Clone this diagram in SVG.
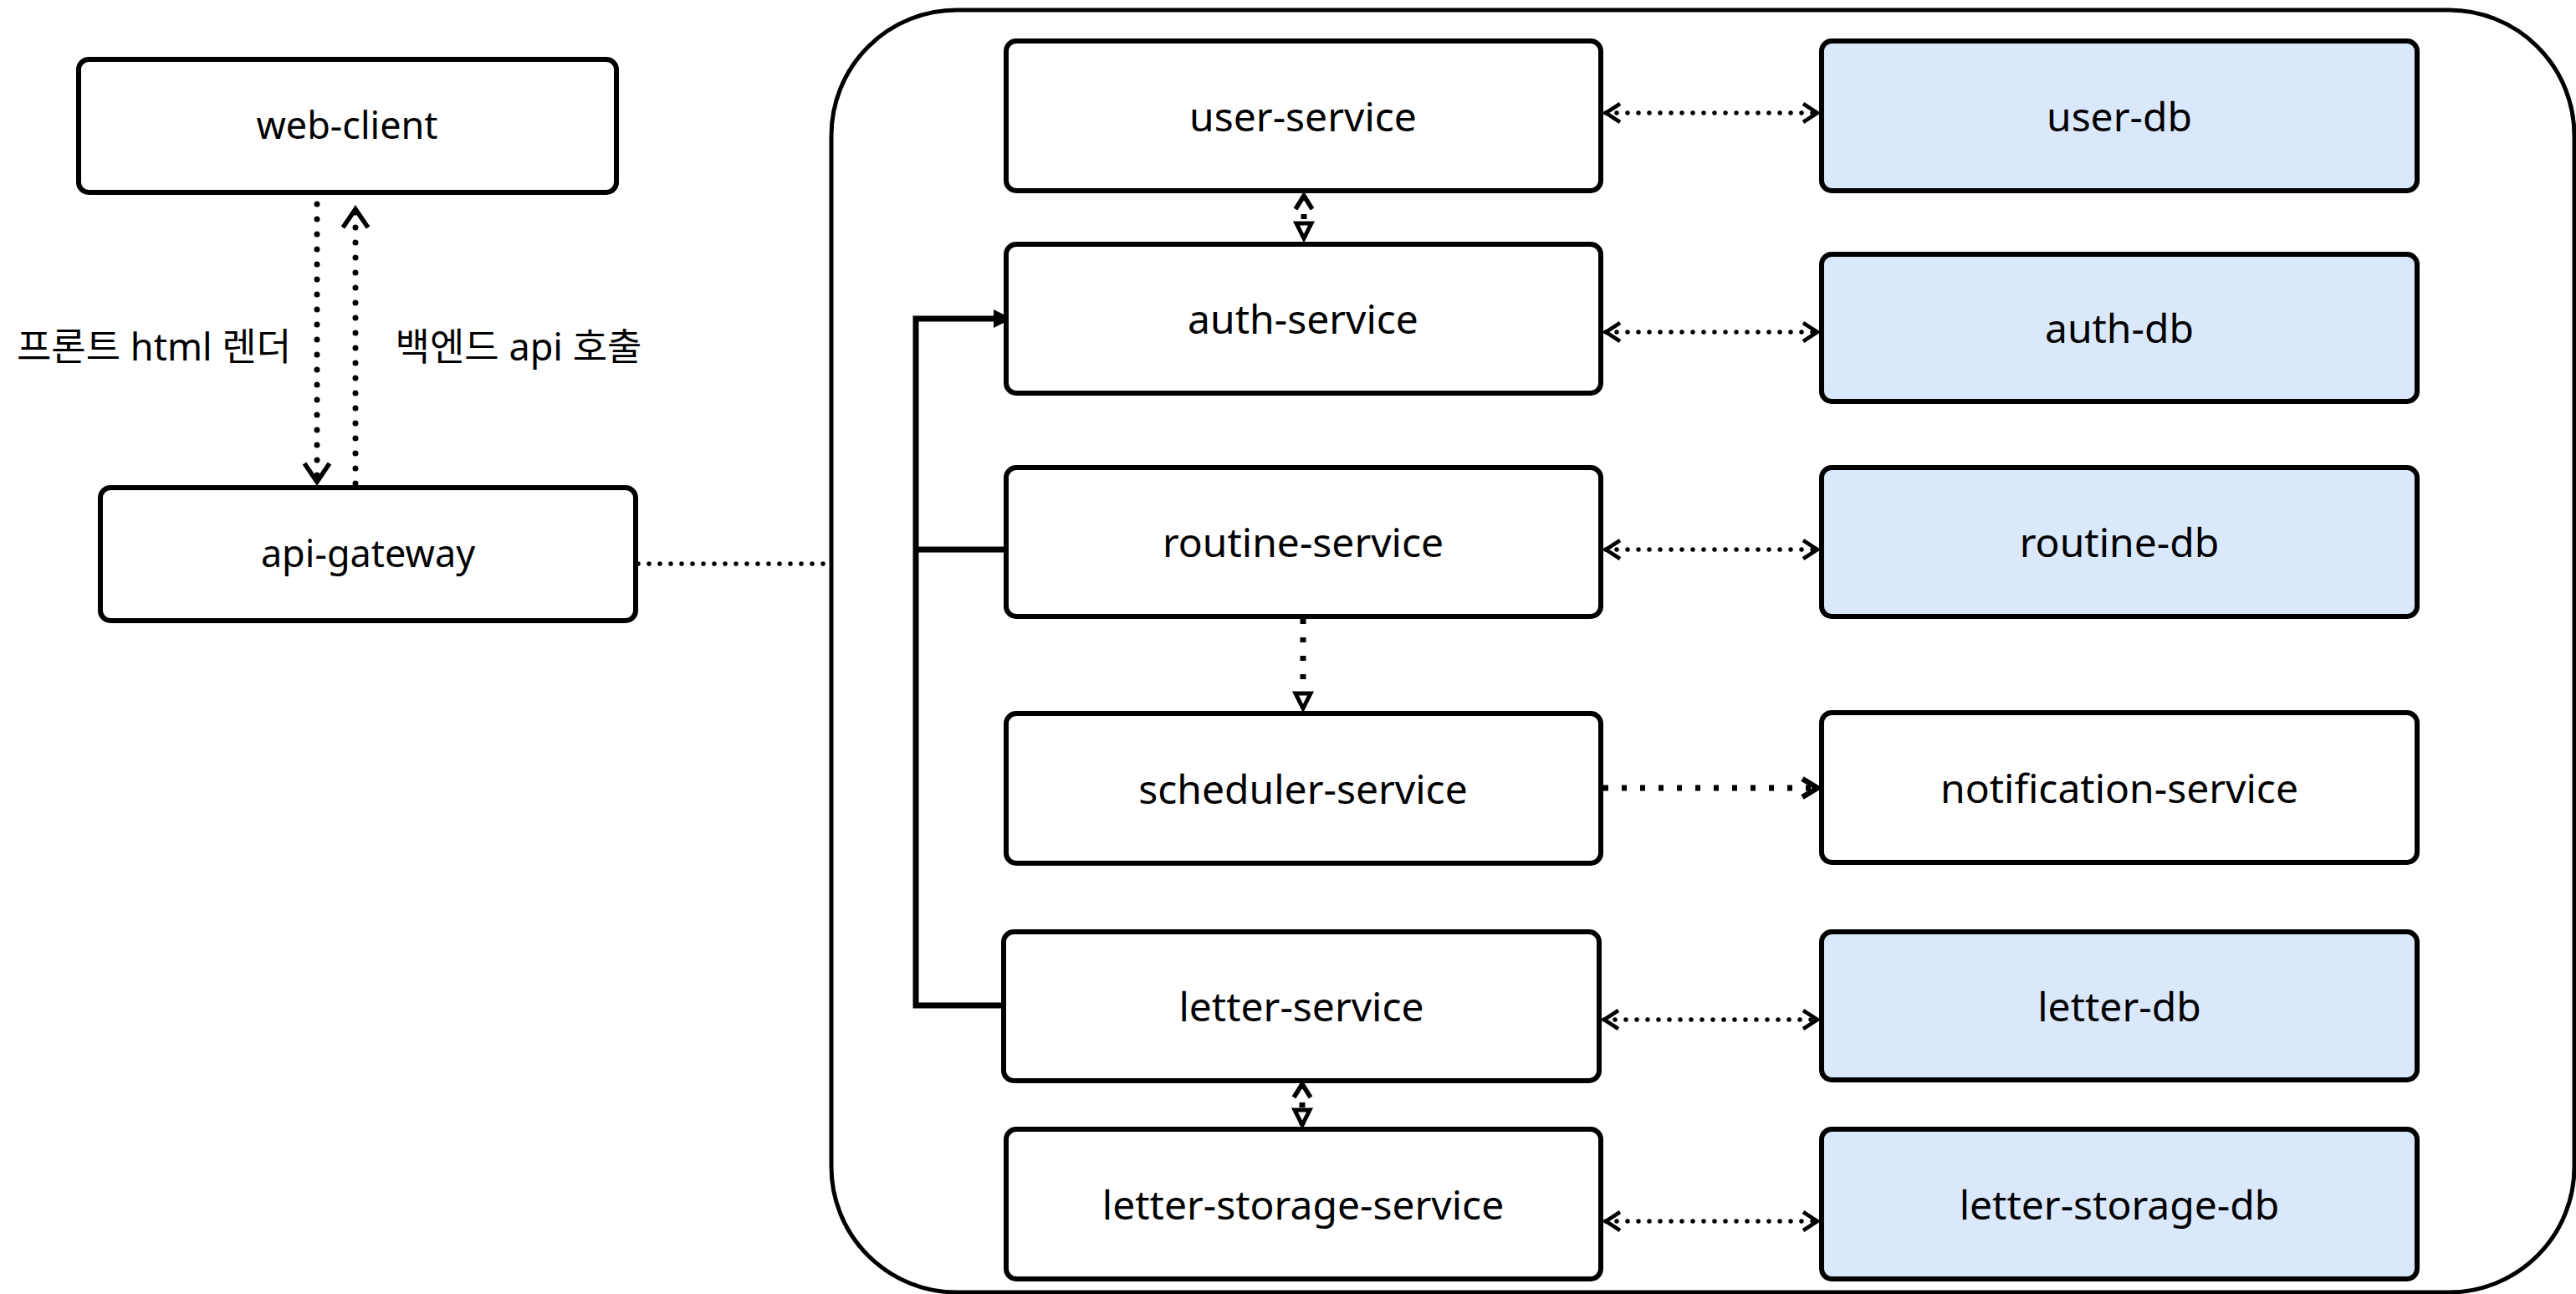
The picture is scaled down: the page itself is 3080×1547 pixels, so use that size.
<svg xmlns="http://www.w3.org/2000/svg" width="3080" height="1547" viewBox="0 0 3080 1547">
<style>
.box{fill:#fff;stroke:#000;stroke-width:6}
.db{fill:#dae8fc;stroke:#000;stroke-width:6}
.lbl{font-family:"Noto Sans","Noto Sans CJK KR",sans-serif;font-size:48px;fill:#000;text-anchor:middle}
.lbs{font-family:"Noto Sans","Noto Sans CJK KR",sans-serif;font-size:45px;fill:#000;text-anchor:middle}
.kr{font-family:"Noto Sans","Noto Sans CJK KR",sans-serif;font-size:45px;fill:#000;text-anchor:middle}
.dotL{fill:none;stroke:#000;stroke-width:7;stroke-linecap:round;stroke-dasharray:0 18}
.dot{fill:none;stroke:#000;stroke-width:5.5;stroke-linecap:round;stroke-dasharray:0 13}
.dash{fill:none;stroke:#000;stroke-width:7;stroke-dasharray:6 16}
.solid{fill:none;stroke:#000;stroke-width:7}
</style>
<defs>
<marker id="chev" markerUnits="userSpaceOnUse" viewBox="-30 -20 40 40" markerWidth="40" markerHeight="40" refX="0" refY="0" orient="auto-start-reverse">
<path d="M-17,-11 L0,0 L-17,11" fill="none" stroke="#000" stroke-width="4.5"/>
</marker>
<marker id="chevL" markerUnits="userSpaceOnUse" viewBox="-30 -20 40 40" markerWidth="40" markerHeight="40" refX="0" refY="0" orient="auto-start-reverse">
<path d="M-22,-15 L0,0 L-22,15" fill="none" stroke="#000" stroke-width="5.5"/>
</marker>
<marker id="chevB" markerUnits="userSpaceOnUse" viewBox="-30 -20 40 40" markerWidth="40" markerHeight="40" refX="0" refY="0" orient="auto-start-reverse">
<path d="M-18,-11 L0,0 L-18,11" fill="none" stroke="#000" stroke-width="6.5"/>
</marker>
<marker id="chevS" markerUnits="userSpaceOnUse" viewBox="-30 -20 40 40" markerWidth="40" markerHeight="40" refX="0" refY="0" orient="auto-start-reverse">
<path d="M-16,-10 L0,0 L-16,10" fill="none" stroke="#000" stroke-width="5.5"/>
</marker>
<marker id="tri" markerUnits="userSpaceOnUse" viewBox="-30 -20 40 40" markerWidth="40" markerHeight="40" refX="0" refY="0" orient="auto-start-reverse">
<path d="M-18,-9 L0,0 L-18,9 Z" fill="#fff" stroke="#000" stroke-width="5" stroke-linejoin="miter"/>
</marker>
<marker id="blk" markerUnits="userSpaceOnUse" viewBox="-30 -20 40 40" markerWidth="40" markerHeight="40" refX="-10" refY="0" orient="auto">
<path d="M-12,-11 L10,0 L-12,11 Z" fill="#000"/>
</marker>
</defs>
<rect width="3080" height="1547" fill="#fff"/>

<g id="container">
<rect x="994" y="12" width="2084" height="1533" rx="150" ry="150" fill="none" stroke="#000" stroke-width="5"/>
</g>

<g id="connectors">
<line class="dotL" x1="379" y1="244" x2="379" y2="576" marker-end="url(#chevL)"/>
<line class="dotL" x1="425" y1="578" x2="425" y2="250" marker-end="url(#chevL)"/>
<text class="kr" x="184" y="431">프론트 html 렌더</text>
<text class="kr" x="620" y="431">백엔드 api 호출</text>
<line class="dot" x1="763" y1="674" x2="992" y2="674"/>
<path class="solid" d="M1200,1202 H1095 V381 H1190" marker-end="url(#blk)"/>
<path class="solid" d="M1095,657 H1203"/>
<line class="dash" x1="1559" y1="234" x2="1559" y2="285" marker-start="url(#chevS)" marker-end="url(#tri)"/>
<line class="dash" x1="1558" y1="740" x2="1558" y2="847" marker-end="url(#tri)"/>
<line class="dash" x1="1557" y1="1296" x2="1557" y2="1345" marker-start="url(#chevS)" marker-end="url(#tri)"/>
<line class="dash" x1="1917" y1="942" x2="2173" y2="942" marker-end="url(#chevB)"/>
<line class="dot" x1="1920" y1="135" x2="2173" y2="135" marker-start="url(#chev)" marker-end="url(#chev)"/>
<line class="dot" x1="1920" y1="397" x2="2173" y2="397" marker-start="url(#chev)" marker-end="url(#chev)"/>
<line class="dot" x1="1920" y1="657" x2="2173" y2="657" marker-start="url(#chev)" marker-end="url(#chev)"/>
<line class="dot" x1="1918" y1="1219" x2="2173" y2="1219" marker-start="url(#chev)" marker-end="url(#chev)"/>
<line class="dot" x1="1920" y1="1460" x2="2173" y2="1460" marker-start="url(#chev)" marker-end="url(#chev)"/>
</g>

<g id="web-client"><rect class="box" x="94" y="71" width="643" height="159" rx="12"/><text class="lbs" x="415" y="166">web-client</text></g>
<g id="api-gateway"><rect class="box" x="120" y="583" width="640" height="159" rx="12"/><text class="lbs" x="440" y="678">api-gateway</text></g>

<g id="user-service"><rect class="box" x="1203" y="49" width="711" height="179" rx="12"/><text class="lbl" x="1558" y="157">user-service</text></g>
<g id="auth-service"><rect class="box" x="1203" y="292" width="711" height="178" rx="12"/><text class="lbl" x="1558" y="399">auth-service</text></g>
<g id="routine-service"><rect class="box" x="1203" y="559" width="711" height="178" rx="12"/><text class="lbl" x="1558" y="666">routine-service</text></g>
<g id="scheduler-service"><rect class="box" x="1203" y="853" width="711" height="179" rx="12"/><text class="lbl" x="1558" y="961">scheduler-service</text></g>
<g id="letter-service"><rect class="box" x="1200" y="1114" width="712" height="178" rx="12"/><text class="lbl" x="1556" y="1221">letter-service</text></g>
<g id="letter-storage-service"><rect class="box" x="1203" y="1350" width="711" height="179" rx="12"/><text class="lbl" x="1558" y="1458">letter-storage-service</text></g>

<g id="user-db"><rect class="db" x="2178" y="49" width="712" height="179" rx="12"/><text class="lbl" x="2534" y="157">user-db</text></g>
<g id="auth-db"><rect class="db" x="2178" y="304" width="712" height="176" rx="12"/><text class="lbl" x="2534" y="410">auth-db</text></g>
<g id="routine-db"><rect class="db" x="2178" y="559" width="712" height="178" rx="12"/><text class="lbl" x="2534" y="666">routine-db</text></g>
<g id="notification-service"><rect class="box" x="2178" y="852" width="712" height="179" rx="12"/><text class="lbl" x="2534" y="960">notification-service</text></g>
<g id="letter-db"><rect class="db" x="2178" y="1114" width="712" height="177" rx="12"/><text class="lbl" x="2534" y="1221">letter-db</text></g>
<g id="letter-storage-db"><rect class="db" x="2178" y="1350" width="712" height="179" rx="12"/><text class="lbl" x="2534" y="1458">letter-storage-db</text></g>
</svg>
